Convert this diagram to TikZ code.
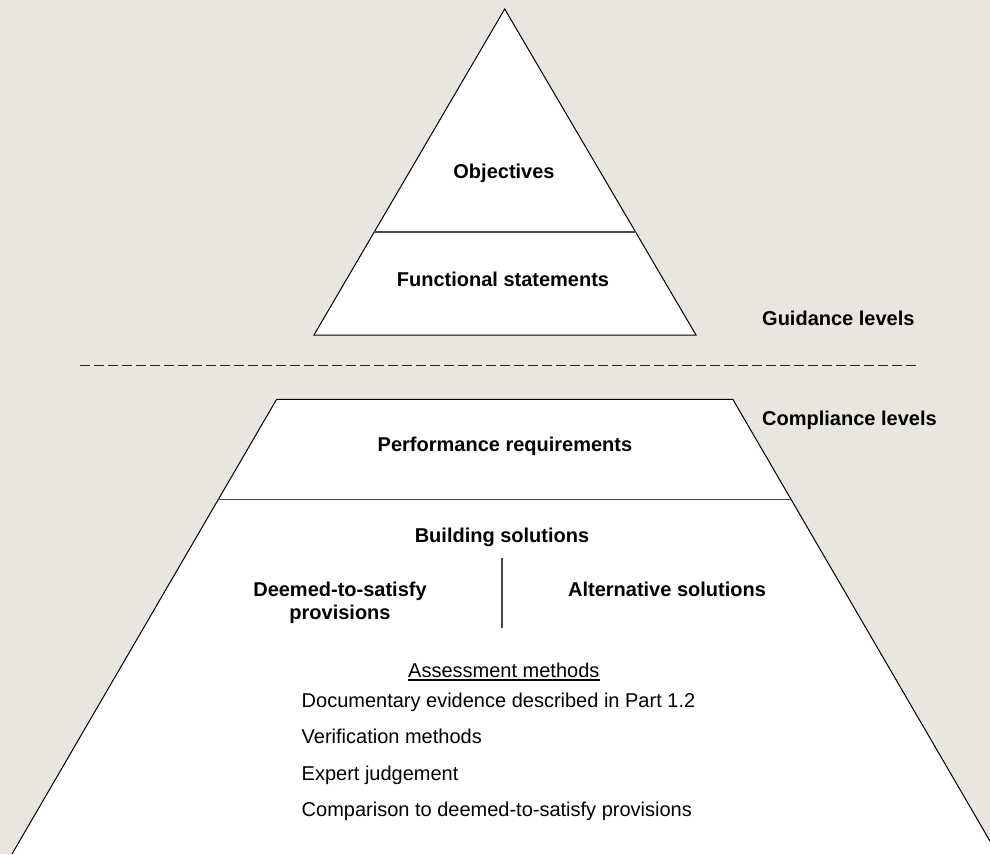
\documentclass[tikz,border=0pt]{standalone}
\usepackage{fontspec}
\setmainfont{Liberation Sans}
\usetikzlibrary{calc}
\definecolor{bgbeige}{RGB}{233,230,224}
\tikzset{
  edge/.style={draw=black, line width=1pt, line join=miter},
  divider/.style={draw=black!72, line width=1.3pt},
  boldlabel/.style={inner sep=0pt, anchor=base, font=\fontsize{20}{23}\selectfont\bfseries},
  plainlabel/.style={inner sep=0pt, anchor=base west, font=\fontsize{20}{23}\selectfont},
}
\begin{document}
\begin{tikzpicture}[x=1pt,y=-1pt]
\fill[bgbeige] (0,0) rectangle (990,854);
\useasboundingbox (0,0) rectangle (990,854);
\clip (0,0) rectangle (990,854);
% upper pyramid
\coordinate (apex) at (504.7,9);
\coordinate (bl) at (314,335);
\coordinate (br) at (696,335);
\filldraw[fill=white, edge] (apex) -- (br) -- (bl) -- cycle;
\draw[divider] ($(apex)!0.684!(bl)$) -- ($(apex)!0.684!(br)$);
% dashed separator
\coordinate (dl) at (80,365.3);
\coordinate (dr) at (918,365.3);
\draw[line width=1.1pt, draw=black!85, dash pattern=on 10pt off 4pt] (dl) -- (dr);
% lower trapezoid
\coordinate (tl) at (276.6,399.3);
\coordinate (tr) at (732.8,399.3);
\coordinate (ll) at (12,854);
\coordinate (lr) at (997.5,854);
\fill[white] (ll) -- (tl) -- (tr) -- (lr) -- cycle;
\draw[edge] (ll) -- (tl) -- (tr) -- (lr);
\draw[divider] ($(tl)!0.22!(ll)$) -- ($(tr)!0.22!(lr)$);
% vertical separator
\coordinate (vt) at (502,558);
\coordinate (vb) at (502,628);
\draw[divider, line width=1.5pt] (vt) -- (vb);
% labels
\node[boldlabel] (obj) at (504,178.3) {Objectives};
\node[boldlabel] (func) at (503,286.7) {Functional statements};
\node[boldlabel, anchor=base west] (guid) at (762,325.7) {Guidance levels};
\node[boldlabel, anchor=base west] (compl) at (762,425.7) {Compliance levels};
\node[boldlabel] (perf) at (505,451) {Performance requirements};
\node[boldlabel] (build) at (502,542) {Building solutions};
\node[boldlabel] (dts) at (340,596.7) {\begin{tabular}[t]{@{}c@{}}Deemed-to-satisfy\\provisions\end{tabular}};
\node[boldlabel] (alt) at (667,596.7) {Alternative solutions};
\node[inner sep=0pt, anchor=base, font=\fontsize{20}{23}\selectfont] (assess) at (503.8,677) {Assessment methods};
\draw[line width=1.2pt] ([yshift=-3pt]assess.base west) -- ([yshift=-3pt]assess.base east);
\node[plainlabel] (doc) at (301.5,707) {Documentary evidence described in Part 1.2};
\node[plainlabel] (ver) at (301.5,743.5) {Verification methods};
\node[plainlabel] (exp) at (301.5,780) {Expert judgement};
\node[plainlabel] (comp) at (301.5,816.5) {Comparison to deemed-to-satisfy provisions};
\end{tikzpicture}
\end{document}
